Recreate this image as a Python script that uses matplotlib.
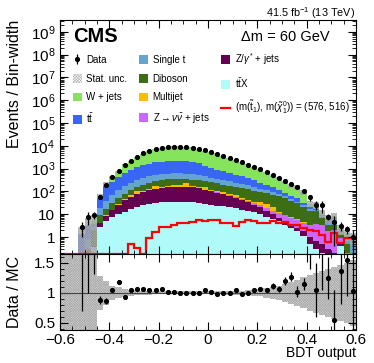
import numpy as np
import matplotlib
matplotlib.use('Agg')
import matplotlib.pyplot as plt
import matplotlib.patches as mpatches
from matplotlib.lines import Line2D
from matplotlib.ticker import LogLocator, FixedLocator, FuncFormatter, MultipleLocator, NullFormatter

plt.rcParams['font.family'] = ['Liberation Sans', 'DejaVu Sans']
plt.rcParams['mathtext.fontset'] = 'custom'
plt.rcParams['mathtext.rm'] = 'Liberation Sans'
plt.rcParams['mathtext.it'] = 'Liberation Sans:italic'
plt.rcParams['mathtext.bf'] = 'Liberation Sans:bold'
plt.rcParams['hatch.linewidth'] = 0.35

# 48 bins of BDT output between -0.6 and 0.6
edges = np.linspace(-0.6, 0.6, 49)
centers = 0.5 * (edges[1:] + edges[:-1])

# backgrounds, events / bin-width
ttx = [0, 0, 0, 0, 0, 0.35, 2.8, 5.0, 7.8, 10, 13, 17, 21, 25, 28, 30, 33, 35, 36, 36, 35, 34, 32, 28,
       26, 24, 22, 20, 18, 16, 14, 12, 10, 7.9, 6.3, 4.8, 3.5, 2.5, 1.8, 1.1, 0.5, 0.3, 0.2, 0, 0, 0.4, 0, 0]
zgamma = [0, 0, 0, 0, 0, 0.05, 1.4, 3.3, 7.4, 15, 27, 40, 54, 68, 84, 96, 105, 116, 122, 126, 123, 118, 103, 87,
          74, 65, 53, 43, 34, 26, 19, 14, 10, 6.2, 3.7, 2.3, 1.5, 1.0, 0.73, 0.66, 0.5, 0.4, 0.3, 0.3, 0.2, 0.2, 0, 0]
znunu = [0, 0, 0, 0, 0, 0, 0, 0, 0, 0, 0, 0, 0, 0, 0, 0, 0, 0, 0, 0, 0, 0, 3.1, 5.4,
         7.2, 6.4, 5.4, 6.1, 5.1, 5.1, 4.9, 5.3, 5.2, 4.9, 4.1, 4.1, 3.9, 3.5, 3.1, 2.4, 2.5, 3, 3, 1.5, 1.8, 0.3, 0.2, 0]
multijet = [0, 0, 0, 0, 0, 0, 0.1, 0.6, 0.71, 2.4, 5.9, 9.8, 29, 14, 20, 52, 20, 22, 24, 24, 71, 22, 20, 31,
            13, 12, 9.9, 6.7, 15, 5.7, 3.7, 3.1, 8.0, 9.1, 5.8, 0.8, 0.42, 0.33, 0.27, 0.2, 0, 0, 0, 0, 0, 0, 0, 0]
diboson = [0, 0, 0, 0, 0.3, 1.7, 4.9, 8.9, 14, 23, 34, 46, 54, 92, 108, 104, 158, 165, 173, 169, 126, 157, 144, 130,
           131, 122, 108, 102, 86, 86, 81, 73, 62, 55, 51, 48, 41, 32, 24, 16, 11, 10, 4, 1.5, 1.5, 0.4, 0.3, 0]
single_t = [0, 0, 0, 0, 0.5, 1.0, 9.1, 22, 41, 65, 94, 122, 158, 190, 217, 231, 246, 264, 262, 262, 248, 231, 211, 175,
            156, 134, 117, 104, 87, 76, 63, 51, 39, 29, 23, 16, 12, 8.1, 5.3, 4.0, 3.0, 2.0, 1.0, 0.3, 1.5, 0.5, 0.3, 0.7]
ttbar = [0, 0, 0, 1.4, 2.2, 0.5, 37, 126, 192, 302, 457, 657, 832, 991, 1200, 1350, 1480, 1540, 1570, 1570, 1540, 1430, 1270, 802,
         664, 549, 460, 379, 304, 243, 185, 144, 105, 78, 55, 39, 25, 15, 15, 6.2, 3.5, 3.0, 0.5, 2.5, 1.5, 0, 0, 0.3]
wjets = [0, 0, 0, 0, 0.5, 1.2, 6.7, 48, 144, 275, 918, 1250, 2010, 2980, 4230, 5220, 5720, 6570, 6930, 6930, 6770, 6320, 5630, 4770,
         4300, 3660, 2850, 2290, 1740, 1490, 1140, 846, 631, 501, 342, 265, 158, 111, 105, 63, 7.5, 6.0, 2.0, 0.3, 1.5, 0.5, 0.6, 0]

# signal (576, 516)
signal = [0, 0, 0, 0, 0, 0, 0, 0, 0, 0, 0, 0.5, 0.33, 0, 0.87, 1.7, 2.7, 2.7, 3.4, 4.0, 4.0, 4.7, 5.6, 5.0,
          5.6, 5.4, 4.0, 4.0, 3.0, 4.7, 5.6, 5.0, 4.0, 4.0, 5.2, 4.0, 4.6, 3.3, 3.3, 2.6, 2.0, 1.9, 1.2, 0.63, 1.45, 0.52, 0.87, 0.87]

# data / MC ratio and its uncertainty (nan = no data point)
nan = np.nan
ratio = [nan, nan, nan, 2.0, 2.2, 2.0, 0.88, 0.86, 1.05, 1.18, 0.93, 1.04, 1.06, 1.07, 1.05, 1.05, 1.07, 1.02, 1.01, 1.0, 1.0, 1.0, 0.99, 1.05,
         1.01, 0.98, 1.0, 1.0, 1.05, 0.98, 1.0, 1.04, 1.06, 1.04, 1.11, 1.07, 1.2, 1.27, 1.02, 1.14, 1.9, 1.04, 2.2, 1.24, 0.55, 1.36, 1.55, 1.03]
ratio_err = [0, 0, 0, 1.3, 1.2, 0.68, 0.06, 0.05, 0.03, 0.03, 0.02, 0.02, 0.02, 0.02, 0.02, 0.02, 0.02, 0.02, 0.02, 0.02, 0.02, 0.02, 0.02, 0.02,
             0.02, 0.02, 0.02, 0.02, 0.02, 0.02, 0.02, 0.03, 0.03, 0.03, 0.05, 0.05, 0.07, 0.07, 0.09, 0.1, 0.5, 0.45, 1.15, 0.35, 0.5, 0.55, 0.6, 1.0]

# relative MC stat. uncertainty
mc_unc = [1.0, 1.0, 1.0, 1.0, 1.0, 1.0, 0.28, 0.2, 0.12, 0.09, 0.07, 0.05, 0.04, 0.035, 0.03, 0.025, 0.025, 0.025, 0.025, 0.025, 0.025, 0.025, 0.025, 0.025,
          0.025, 0.025, 0.028, 0.03, 0.032, 0.035, 0.04, 0.05, 0.06, 0.08, 0.1, 0.12, 0.15, 0.18, 0.22, 0.26, 0.3, 0.33, 0.37, 0.4, 0.43, 0.47, 0.5, 0.55]

stack = [ttx, zgamma, znunu, multijet, diboson, single_t, ttbar, wjets]
colors = ['#b0fafa', '#660050', '#cc66ff', '#ffbb00', '#3d6e14', '#64a4d0', '#3a66f5', '#86e35c']

total = np.sum(np.array(stack), axis=0)
ratio = np.array(ratio)
ratio_err = np.array(ratio_err)
mc_unc = np.array(mc_unc)
data = ratio * total
data_err = ratio_err * total
has_data = np.isfinite(ratio)

ylo, yhi = 0.18, 3.3e9
hatch_col = '#a8a8a8'
hatch = 'x' * 20

fig = plt.figure(figsize=(3.74, 3.63), dpi=100)
ax = fig.add_axes([0.1604, 0.3003, 0.7914, 0.6446])
ax2 = fig.add_axes([0.1604, 0.0909, 0.7914, 0.2094], sharex=ax)

# main panel
ax.hist([centers] * len(stack), bins=edges, weights=stack, stacked=True, histtype='stepfilled',
        color=colors, linewidth=0, log=True)
ax.stairs(total * (1 + mc_unc), edges, baseline=np.clip(total * (1 - mc_unc), 0, None), fill=True,
          facecolor='none', edgecolor=hatch_col, hatch=hatch, linewidth=0)
ax.stairs(np.maximum(signal, ylo), edges, baseline=None, color='#ff0000', linewidth=1.6)
dat = ax.errorbar(centers[has_data], data[has_data], yerr=data_err[has_data], fmt='o', color='black',
                  ms=2.7, elinewidth=0.9, capsize=0)

ax.set_xlim(-0.6, 0.6)
ax.set_ylim(ylo, yhi)


def log_label(v, pos):
    e = int(round(np.log10(v)))
    if e == 0:
        return '1'
    if e == 1:
        return '10'
    return '$10^{%d}$' % e


ax.yaxis.set_major_locator(FixedLocator(10.0 ** np.arange(0, 10)))
ax.yaxis.set_minor_locator(LogLocator(base=10, subs=np.arange(2, 10), numticks=300))
ax.yaxis.set_major_formatter(FuncFormatter(log_label))
ax.yaxis.set_minor_formatter(NullFormatter())
ax.xaxis.set_major_locator(MultipleLocator(0.2))
ax.xaxis.set_minor_locator(MultipleLocator(0.05))
ax.tick_params(which='both', direction='in', top=True, right=True, labelbottom=False, labelsize=11, pad=3.5)
ax.tick_params(which='major', length=6, width=0.8)
ax.tick_params(which='minor', length=3, width=0.6)
ax.set_ylabel('Events / Bin-width', loc='top', fontsize=11.5)
ax.yaxis.set_label_coords(-0.13, 1.0)

# legend
unc_h = mpatches.Patch(facecolor='white', edgecolor=hatch_col, hatch='x' * 12, linewidth=0)
p = [mpatches.Patch(facecolor=c, edgecolor='none') for c in colors]
sig_h = Line2D([], [], color='#ff0000', linewidth=1.6)
handles = [dat, unc_h, p[7], p[6], p[5], p[4], p[3], p[2], p[1], p[0], sig_h]
labels = ['Data', 'Stat. unc.', 'W + jets', r'$\mathrm{t\bar{t}}$', 'Single t', 'Diboson', 'Multijet',
          r'Z$\rightarrow\nu\bar{\nu}$ + jets', r'Z/$\gamma^{*}$ + jets', r'$\mathrm{t\bar{t}X}$',
          r'$(\mathrm{m}(\tilde{\mathrm{t}}_{1}),\,\mathrm{m}(\tilde{\chi}^{0}_{1}))$ = (576, 516)']
ax.legend(handles, labels, loc='upper left', bbox_to_anchor=(0.043, 0.867), ncol=3, frameon=False,
          fontsize=7, handlelength=0.95, handleheight=1.0, handletextpad=0.45, columnspacing=1.2,
          labelspacing=0.9, borderpad=0, borderaxespad=0)

fig.text(73 / 374, 1 - 37 / 363, 'CMS', fontsize=14.5, fontweight='bold', ha='left', va='center')
fig.text(330 / 374, 1 - 37 / 363, '\u0394m = 60 GeV', fontsize=10.5, ha='right', va='center')
fig.text(355 / 374, 1 - 13 / 363, '41.5 fb$^{-1}$ (13 TeV)', fontsize=7.8, ha='right', va='center')

# ratio panel
ax2.stairs(1 + mc_unc, edges, baseline=1 - mc_unc, fill=True, facecolor='none', edgecolor=hatch_col,
           hatch=hatch, linewidth=0)
ax2.axhline(1, color='#444444', linewidth=0.8)
ax2.errorbar(centers[has_data], ratio[has_data], yerr=ratio_err[has_data], fmt='o', color='black',
             ms=2.7, elinewidth=0.9, capsize=0)
ax2.set_ylim(0.38, 1.645)
ax2.set_yticks([0.5, 1, 1.5], ['0.5', '1', '1.5'])
ax2.yaxis.set_minor_locator(MultipleLocator(0.1))
ax2.set_xticks([-0.6, -0.4, -0.2, 0, 0.2, 0.4, 0.6], ['\u22120.6', '\u22120.4', '\u22120.2', '0', '0.2', '0.4', '0.6'])
ax2.xaxis.set_minor_locator(MultipleLocator(0.05))
ax2.tick_params(which='both', direction='in', top=True, right=True, labelsize=11, pad=3.5)
ax2.tick_params(which='major', length=6, width=0.8)
ax2.tick_params(which='minor', length=3, width=0.6)
ax2.tick_params(axis='x', pad=2)
ax2.set_ylabel('Data / MC', fontsize=11.5)
ax2.yaxis.set_label_coords(-0.13, 0.5)
ax2.set_xlabel('BDT output', loc='right', fontsize=10)
ax2.xaxis.set_label_coords(1.0, -0.21)

fig.savefig('out.png', dpi=100)
